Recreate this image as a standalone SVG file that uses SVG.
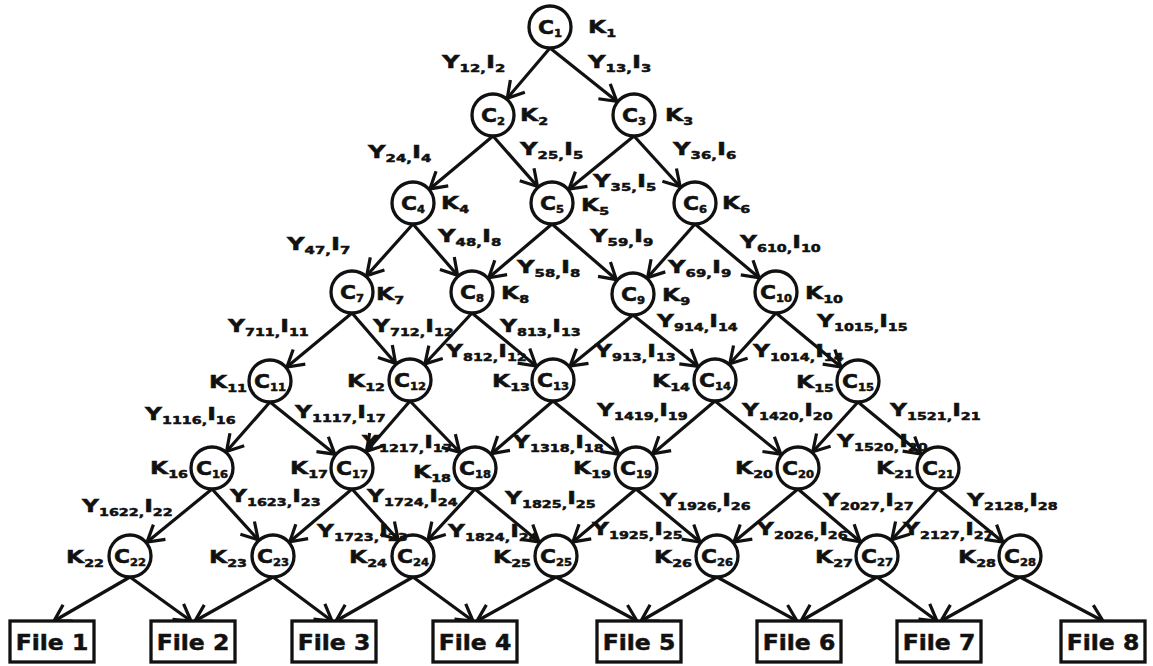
<svg xmlns="http://www.w3.org/2000/svg" width="1153" height="666" viewBox="0 0 1153 666">
<defs>
<style>
text { font-family: "DejaVu Sans", "Liberation Sans", sans-serif; font-weight: bold; fill: #111; stroke: #111; stroke-width: 0.5; }
.lb { font-size: 18px; }
.s { font-size: 11px; }
.cs { font-size: 10px; }
.ct { font-size: 19px; text-anchor: middle; }
.ft { font-size: 21px; text-anchor: middle; }
circle.n { fill: #fff; stroke: #111; stroke-width: 3.3; }
rect.f { fill: #fff; stroke: #111; stroke-width: 3.3; }
#connectors path { stroke: #111; stroke-width: 3.2; fill: none; }
#connectors .e { marker-end: url(#ah); }
#connectors .ef { marker-end: url(#ahf); }
</style>
<marker id="ah" markerUnits="userSpaceOnUse" viewBox="-42 -13 44 26" refX="0" refY="0" markerWidth="44" markerHeight="26" orient="auto" overflow="visible">
<path d="M-38,-9.5 L-22,0 L-38,9.5" fill="none" stroke="#111" stroke-width="3.2"/>
</marker>
<marker id="ahf" markerUnits="userSpaceOnUse" viewBox="-20 -13 22 26" refX="0" refY="0" markerWidth="22" markerHeight="26" orient="auto" overflow="visible">
<path d="M-16,-9.5 L0,0 L-16,9.5" fill="none" stroke="#111" stroke-width="3.2"/>
</marker>
</defs>
<rect x="0" y="0" width="1153" height="666" fill="#fff" stroke="none"/>

<g id="connectors">
<path class="e" d="M550,48 L493,115"/>
<path class="e" d="M550,48 L634,115"/>
<path class="e" d="M493,136 L413,203"/>
<path class="e" d="M493,136 L552,203"/>
<path class="e" d="M634,136 L552,203"/>
<path class="e" d="M634,136 L695,203"/>
<path class="e" d="M413,224 L352,292"/>
<path class="e" d="M413,224 L472,292"/>
<path class="e" d="M552,224 L472,292"/>
<path class="e" d="M552,224 L633,294"/>
<path class="e" d="M695,224 L633,294"/>
<path class="e" d="M695,224 L776,292"/>
<path class="e" d="M352,313 L270,381"/>
<path class="e" d="M352,313 L410,380"/>
<path class="e" d="M472,313 L410,380"/>
<path class="e" d="M472,313 L553,380"/>
<path class="e" d="M633,315 L553,380"/>
<path class="e" d="M633,315 L715,380"/>
<path class="e" d="M776,313 L715,380"/>
<path class="e" d="M776,313 L858,381"/>
<path class="e" d="M270,402 L212,468"/>
<path class="e" d="M270,402 L352,468"/>
<path class="e" d="M410,401 L352,468"/>
<path class="e" d="M410,401 L475,468"/>
<path class="e" d="M553,401 L475,468"/>
<path class="e" d="M553,401 L636,468"/>
<path class="e" d="M715,401 L636,468"/>
<path class="e" d="M715,401 L798,468"/>
<path class="e" d="M858,402 L798,468"/>
<path class="e" d="M858,402 L938,468"/>
<path class="e" d="M212,489 L130,556"/>
<path class="e" d="M212,489 L273,556"/>
<path class="e" d="M352,489 L273,556"/>
<path class="e" d="M352,489 L413,556"/>
<path class="e" d="M475,489 L413,556"/>
<path class="e" d="M475,489 L556,556"/>
<path class="e" d="M636,489 L556,556"/>
<path class="e" d="M636,489 L717,556"/>
<path class="e" d="M798,489 L717,556"/>
<path class="e" d="M798,489 L877,556"/>
<path class="e" d="M938,489 L877,556"/>
<path class="e" d="M938,489 L1020,556"/>
<path class="ef" d="M130,577 L54,621"/>
<path class="ef" d="M130,577 L191,621"/>
<path class="ef" d="M273,577 L195,621"/>
<path class="ef" d="M273,577 L332,621"/>
<path class="ef" d="M413,577 L336,621"/>
<path class="ef" d="M413,577 L473,621"/>
<path class="ef" d="M556,577 L477,621"/>
<path class="ef" d="M556,577 L637,621"/>
<path class="ef" d="M717,577 L641,621"/>
<path class="ef" d="M717,577 L797,621"/>
<path class="ef" d="M877,577 L801,621"/>
<path class="ef" d="M877,577 L937,621"/>
<path class="ef" d="M1020,577 L941,621"/>
<path class="ef" d="M1020,577 L1103,621"/>
</g>

<g id="C1"><circle class="n" cx="550" cy="27" r="21"/><text class="ct" transform="translate(550,34) scale(1.15,1)">C<tspan class="cs" dy="3">1</tspan></text><text class="lb" transform="translate(588,33) scale(1.3,1)">K<tspan class="s" dy="4">1</tspan></text></g>
<g id="C2"><circle class="n" cx="493" cy="115" r="21"/><text class="ct" transform="translate(493,122) scale(1.15,1)">C<tspan class="cs" dy="3">2</tspan></text><text class="lb" transform="translate(520,121) scale(1.3,1)">K<tspan class="s" dy="4">2</tspan></text></g>
<g id="C3"><circle class="n" cx="634" cy="115" r="21"/><text class="ct" transform="translate(634,122) scale(1.15,1)">C<tspan class="cs" dy="3">3</tspan></text><text class="lb" transform="translate(665,121) scale(1.3,1)">K<tspan class="s" dy="4">3</tspan></text></g>
<g id="C4"><circle class="n" cx="413" cy="203" r="21"/><text class="ct" transform="translate(413,210) scale(1.15,1)">C<tspan class="cs" dy="3">4</tspan></text><text class="lb" transform="translate(441,209) scale(1.3,1)">K<tspan class="s" dy="4">4</tspan></text></g>
<g id="C5"><circle class="n" cx="552" cy="203" r="21"/><text class="ct" transform="translate(552,210) scale(1.15,1)">C<tspan class="cs" dy="3">5</tspan></text><text class="lb" transform="translate(581,211) scale(1.3,1)">K<tspan class="s" dy="4">5</tspan></text></g>
<g id="C6"><circle class="n" cx="695" cy="203" r="21"/><text class="ct" transform="translate(695,210) scale(1.15,1)">C<tspan class="cs" dy="3">6</tspan></text><text class="lb" transform="translate(722,209) scale(1.3,1)">K<tspan class="s" dy="4">6</tspan></text></g>
<g id="C7"><circle class="n" cx="352" cy="292" r="21"/><text class="ct" transform="translate(352,299) scale(1.15,1)">C<tspan class="cs" dy="3">7</tspan></text><text class="lb" transform="translate(376,300) scale(1.3,1)">K<tspan class="s" dy="4">7</tspan></text></g>
<g id="C8"><circle class="n" cx="472" cy="292" r="21"/><text class="ct" transform="translate(472,299) scale(1.15,1)">C<tspan class="cs" dy="3">8</tspan></text><text class="lb" transform="translate(501,299) scale(1.3,1)">K<tspan class="s" dy="4">8</tspan></text></g>
<g id="C9"><circle class="n" cx="633" cy="294" r="21"/><text class="ct" transform="translate(633,301) scale(1.15,1)">C<tspan class="cs" dy="3">9</tspan></text><text class="lb" transform="translate(662,301) scale(1.3,1)">K<tspan class="s" dy="4">9</tspan></text></g>
<g id="C10"><circle class="n" cx="776" cy="292" r="21"/><text class="ct" transform="translate(776,299) scale(1.15,1)">C<tspan class="cs" dy="3">10</tspan></text><text class="lb" transform="translate(805,299) scale(1.3,1)">K<tspan class="s" dy="4">10</tspan></text></g>
<g id="C11"><circle class="n" cx="270" cy="381" r="21"/><text class="ct" transform="translate(270,388) scale(1.15,1)">C<tspan class="cs" dy="3">11</tspan></text><text class="lb" transform="translate(209,388) scale(1.3,1)">K<tspan class="s" dy="4">11</tspan></text></g>
<g id="C12"><circle class="n" cx="410" cy="380" r="21"/><text class="ct" transform="translate(410,387) scale(1.15,1)">C<tspan class="cs" dy="3">12</tspan></text><text class="lb" transform="translate(347,387) scale(1.3,1)">K<tspan class="s" dy="4">12</tspan></text></g>
<g id="C13"><circle class="n" cx="553" cy="380" r="21"/><text class="ct" transform="translate(553,387) scale(1.15,1)">C<tspan class="cs" dy="3">13</tspan></text><text class="lb" transform="translate(492,387) scale(1.3,1)">K<tspan class="s" dy="4">13</tspan></text></g>
<g id="C14"><circle class="n" cx="715" cy="380" r="21"/><text class="ct" transform="translate(715,387) scale(1.15,1)">C<tspan class="cs" dy="3">14</tspan></text><text class="lb" transform="translate(652,387) scale(1.3,1)">K<tspan class="s" dy="4">14</tspan></text></g>
<g id="C15"><circle class="n" cx="858" cy="381" r="21"/><text class="ct" transform="translate(858,388) scale(1.15,1)">C<tspan class="cs" dy="3">15</tspan></text><text class="lb" transform="translate(796,388) scale(1.3,1)">K<tspan class="s" dy="4">15</tspan></text></g>
<g id="C16"><circle class="n" cx="212" cy="468" r="21"/><text class="ct" transform="translate(212,475) scale(1.15,1)">C<tspan class="cs" dy="3">16</tspan></text><text class="lb" transform="translate(150,474) scale(1.3,1)">K<tspan class="s" dy="4">16</tspan></text></g>
<g id="C17"><circle class="n" cx="352" cy="468" r="21"/><text class="ct" transform="translate(352,475) scale(1.15,1)">C<tspan class="cs" dy="3">17</tspan></text><text class="lb" transform="translate(290,474) scale(1.3,1)">K<tspan class="s" dy="4">17</tspan></text></g>
<g id="C18"><circle class="n" cx="475" cy="468" r="21"/><text class="ct" transform="translate(475,475) scale(1.15,1)">C<tspan class="cs" dy="3">18</tspan></text><text class="lb" transform="translate(413,478) scale(1.3,1)">K<tspan class="s" dy="4">18</tspan></text></g>
<g id="C19"><circle class="n" cx="636" cy="468" r="21"/><text class="ct" transform="translate(636,475) scale(1.15,1)">C<tspan class="cs" dy="3">19</tspan></text><text class="lb" transform="translate(573,474) scale(1.3,1)">K<tspan class="s" dy="4">19</tspan></text></g>
<g id="C20"><circle class="n" cx="798" cy="468" r="21"/><text class="ct" transform="translate(798,475) scale(1.15,1)">C<tspan class="cs" dy="3">20</tspan></text><text class="lb" transform="translate(735,474) scale(1.3,1)">K<tspan class="s" dy="4">20</tspan></text></g>
<g id="C21"><circle class="n" cx="938" cy="468" r="21"/><text class="ct" transform="translate(938,475) scale(1.15,1)">C<tspan class="cs" dy="3">21</tspan></text><text class="lb" transform="translate(876,474) scale(1.3,1)">K<tspan class="s" dy="4">21</tspan></text></g>
<g id="C22"><circle class="n" cx="130" cy="556" r="21"/><text class="ct" transform="translate(130,563) scale(1.15,1)">C<tspan class="cs" dy="3">22</tspan></text><text class="lb" transform="translate(66,563) scale(1.3,1)">K<tspan class="s" dy="4">22</tspan></text></g>
<g id="C23"><circle class="n" cx="273" cy="556" r="21"/><text class="ct" transform="translate(273,563) scale(1.15,1)">C<tspan class="cs" dy="3">23</tspan></text><text class="lb" transform="translate(209,563) scale(1.3,1)">K<tspan class="s" dy="4">23</tspan></text></g>
<g id="C24"><circle class="n" cx="413" cy="556" r="21"/><text class="ct" transform="translate(413,563) scale(1.15,1)">C<tspan class="cs" dy="3">24</tspan></text><text class="lb" transform="translate(349,563) scale(1.3,1)">K<tspan class="s" dy="4">24</tspan></text></g>
<g id="C25"><circle class="n" cx="556" cy="556" r="21"/><text class="ct" transform="translate(556,563) scale(1.15,1)">C<tspan class="cs" dy="3">25</tspan></text><text class="lb" transform="translate(493,563) scale(1.3,1)">K<tspan class="s" dy="4">25</tspan></text></g>
<g id="C26"><circle class="n" cx="717" cy="556" r="21"/><text class="ct" transform="translate(717,563) scale(1.15,1)">C<tspan class="cs" dy="3">26</tspan></text><text class="lb" transform="translate(654,563) scale(1.3,1)">K<tspan class="s" dy="4">26</tspan></text></g>
<g id="C27"><circle class="n" cx="877" cy="556" r="21"/><text class="ct" transform="translate(877,563) scale(1.15,1)">C<tspan class="cs" dy="3">27</tspan></text><text class="lb" transform="translate(815,563) scale(1.3,1)">K<tspan class="s" dy="4">27</tspan></text></g>
<g id="C28"><circle class="n" cx="1020" cy="556" r="21"/><text class="ct" transform="translate(1020,563) scale(1.15,1)">C<tspan class="cs" dy="3">28</tspan></text><text class="lb" transform="translate(958,563) scale(1.3,1)">K<tspan class="s" dy="4">28</tspan></text></g>

<g id="files">
<g id="file1"><rect class="f" x="10" y="621" width="84" height="41"/><text class="ft" transform="translate(52,650) scale(1.12,1)">File 1</text></g>
<g id="file2"><rect class="f" x="151" y="621" width="84" height="41"/><text class="ft" transform="translate(193,650) scale(1.12,1)">File 2</text></g>
<g id="file3"><rect class="f" x="292" y="621" width="84" height="41"/><text class="ft" transform="translate(334,650) scale(1.12,1)">File 3</text></g>
<g id="file4"><rect class="f" x="433" y="621" width="84" height="41"/><text class="ft" transform="translate(475,650) scale(1.12,1)">File 4</text></g>
<g id="file5"><rect class="f" x="597" y="621" width="84" height="41"/><text class="ft" transform="translate(639,650) scale(1.12,1)">File 5</text></g>
<g id="file6"><rect class="f" x="757" y="621" width="84" height="41"/><text class="ft" transform="translate(799,650) scale(1.12,1)">File 6</text></g>
<g id="file7"><rect class="f" x="897" y="621" width="84" height="41"/><text class="ft" transform="translate(939,650) scale(1.12,1)">File 7</text></g>
<g id="file8"><rect class="f" x="1061" y="621" width="84" height="41"/><text class="ft" transform="translate(1103,650) scale(1.12,1)">File 8</text></g>
</g>

<g id="edge-labels">
<text class="lb" transform="translate(442,68) scale(1.35,1)">Y<tspan class="s" dy="4">12,</tspan><tspan dy="-4">I</tspan><tspan class="s" dy="4">2</tspan></text>
<text class="lb" transform="translate(588,68) scale(1.35,1)">Y<tspan class="s" dy="4">13,</tspan><tspan dy="-4">I</tspan><tspan class="s" dy="4">3</tspan></text>
<text class="lb" transform="translate(368,158) scale(1.35,1)">Y<tspan class="s" dy="4">24,</tspan><tspan dy="-4">I</tspan><tspan class="s" dy="4">4</tspan></text>
<text class="lb" transform="translate(520,155) scale(1.35,1)">Y<tspan class="s" dy="4">25,</tspan><tspan dy="-4">I</tspan><tspan class="s" dy="4">5</tspan></text>
<text class="lb" transform="translate(593,187) scale(1.35,1)">Y<tspan class="s" dy="4">35,</tspan><tspan dy="-4">I</tspan><tspan class="s" dy="4">5</tspan></text>
<text class="lb" transform="translate(673,155) scale(1.35,1)">Y<tspan class="s" dy="4">36,</tspan><tspan dy="-4">I</tspan><tspan class="s" dy="4">6</tspan></text>
<text class="lb" transform="translate(287,250) scale(1.35,1)">Y<tspan class="s" dy="4">47,</tspan><tspan dy="-4">I</tspan><tspan class="s" dy="4">7</tspan></text>
<text class="lb" transform="translate(438,242) scale(1.35,1)">Y<tspan class="s" dy="4">48,</tspan><tspan dy="-4">I</tspan><tspan class="s" dy="4">8</tspan></text>
<text class="lb" transform="translate(517,273) scale(1.35,1)">Y<tspan class="s" dy="4">58,</tspan><tspan dy="-4">I</tspan><tspan class="s" dy="4">8</tspan></text>
<text class="lb" transform="translate(590,242) scale(1.35,1)">Y<tspan class="s" dy="4">59,</tspan><tspan dy="-4">I</tspan><tspan class="s" dy="4">9</tspan></text>
<text class="lb" transform="translate(668,273) scale(1.35,1)">Y<tspan class="s" dy="4">69,</tspan><tspan dy="-4">I</tspan><tspan class="s" dy="4">9</tspan></text>
<text class="lb" transform="translate(740,248) scale(1.3,1)">Y<tspan class="s" dy="4">610,</tspan><tspan dy="-4">I</tspan><tspan class="s" dy="4">10</tspan></text>
<text class="lb" transform="translate(228,332) scale(1.3,1)">Y<tspan class="s" dy="4">711,</tspan><tspan dy="-4">I</tspan><tspan class="s" dy="4">11</tspan></text>
<text class="lb" transform="translate(373,332) scale(1.3,1)">Y<tspan class="s" dy="4">712,</tspan><tspan dy="-4">I</tspan><tspan class="s" dy="4">12</tspan></text>
<text class="lb" transform="translate(446,357) scale(1.3,1)">Y<tspan class="s" dy="4">812,</tspan><tspan dy="-4">I</tspan><tspan class="s" dy="4">12</tspan></text>
<text class="lb" transform="translate(500,332) scale(1.3,1)">Y<tspan class="s" dy="4">813,</tspan><tspan dy="-4">I</tspan><tspan class="s" dy="4">13</tspan></text>
<text class="lb" transform="translate(595,357) scale(1.3,1)">Y<tspan class="s" dy="4">913,</tspan><tspan dy="-4">I</tspan><tspan class="s" dy="4">13</tspan></text>
<text class="lb" transform="translate(657,327) scale(1.3,1)">Y<tspan class="s" dy="4">914,</tspan><tspan dy="-4">I</tspan><tspan class="s" dy="4">14</tspan></text>
<text class="lb" transform="translate(753,357) scale(1.3,1)">Y<tspan class="s" dy="4">1014,</tspan><tspan dy="-4">I</tspan><tspan class="s" dy="4">14</tspan></text>
<text class="lb" transform="translate(817,327) scale(1.3,1)">Y<tspan class="s" dy="4">1015,</tspan><tspan dy="-4">I</tspan><tspan class="s" dy="4">15</tspan></text>
<text class="lb" transform="translate(145,420) scale(1.3,1)">Y<tspan class="s" dy="4">1116,</tspan><tspan dy="-4">I</tspan><tspan class="s" dy="4">16</tspan></text>
<text class="lb" transform="translate(295,418) scale(1.3,1)">Y<tspan class="s" dy="4">1117,</tspan><tspan dy="-4">I</tspan><tspan class="s" dy="4">17</tspan></text>
<text class="lb" transform="translate(362,448) scale(1.3,1)">Y<tspan class="s" dy="4">1217,</tspan><tspan dy="-4">I</tspan><tspan class="s" dy="4">17</tspan></text>
<text class="lb" transform="translate(513,448) scale(1.3,1)">Y<tspan class="s" dy="4">1318,</tspan><tspan dy="-4">I</tspan><tspan class="s" dy="4">18</tspan></text>
<text class="lb" transform="translate(597,416) scale(1.3,1)">Y<tspan class="s" dy="4">1419,</tspan><tspan dy="-4">I</tspan><tspan class="s" dy="4">19</tspan></text>
<text class="lb" transform="translate(742,416) scale(1.3,1)">Y<tspan class="s" dy="4">1420,</tspan><tspan dy="-4">I</tspan><tspan class="s" dy="4">20</tspan></text>
<text class="lb" transform="translate(837,447) scale(1.3,1)">Y<tspan class="s" dy="4">1520,</tspan><tspan dy="-4">I</tspan><tspan class="s" dy="4">20</tspan></text>
<text class="lb" transform="translate(890,416) scale(1.3,1)">Y<tspan class="s" dy="4">1521,</tspan><tspan dy="-4">I</tspan><tspan class="s" dy="4">21</tspan></text>
<text class="lb" transform="translate(82,512) scale(1.3,1)">Y<tspan class="s" dy="4">1622,</tspan><tspan dy="-4">I</tspan><tspan class="s" dy="4">22</tspan></text>
<text class="lb" transform="translate(230,502) scale(1.3,1)">Y<tspan class="s" dy="4">1623,</tspan><tspan dy="-4">I</tspan><tspan class="s" dy="4">23</tspan></text>
<text class="lb" transform="translate(317,537) scale(1.3,1)">Y<tspan class="s" dy="4">1723,</tspan><tspan dy="-4">I</tspan><tspan class="s" dy="4">23</tspan></text>
<text class="lb" transform="translate(367,502) scale(1.3,1)">Y<tspan class="s" dy="4">1724,</tspan><tspan dy="-4">I</tspan><tspan class="s" dy="4">24</tspan></text>
<text class="lb" transform="translate(448,537) scale(1.3,1)">Y<tspan class="s" dy="4">1824,</tspan><tspan dy="-4">I</tspan><tspan class="s" dy="4">24</tspan></text>
<text class="lb" transform="translate(505,504) scale(1.3,1)">Y<tspan class="s" dy="4">1825,</tspan><tspan dy="-4">I</tspan><tspan class="s" dy="4">25</tspan></text>
<text class="lb" transform="translate(592,535) scale(1.3,1)">Y<tspan class="s" dy="4">1925,</tspan><tspan dy="-4">I</tspan><tspan class="s" dy="4">25</tspan></text>
<text class="lb" transform="translate(660,506) scale(1.3,1)">Y<tspan class="s" dy="4">1926,</tspan><tspan dy="-4">I</tspan><tspan class="s" dy="4">26</tspan></text>
<text class="lb" transform="translate(757,535) scale(1.3,1)">Y<tspan class="s" dy="4">2026,</tspan><tspan dy="-4">I</tspan><tspan class="s" dy="4">26</tspan></text>
<text class="lb" transform="translate(823,506) scale(1.3,1)">Y<tspan class="s" dy="4">2027,</tspan><tspan dy="-4">I</tspan><tspan class="s" dy="4">27</tspan></text>
<text class="lb" transform="translate(903,535) scale(1.3,1)">Y<tspan class="s" dy="4">2127,</tspan><tspan dy="-4">I</tspan><tspan class="s" dy="4">27</tspan></text>
<text class="lb" transform="translate(967,506) scale(1.3,1)">Y<tspan class="s" dy="4">2128,</tspan><tspan dy="-4">I</tspan><tspan class="s" dy="4">28</tspan></text>
</g>
</svg>
